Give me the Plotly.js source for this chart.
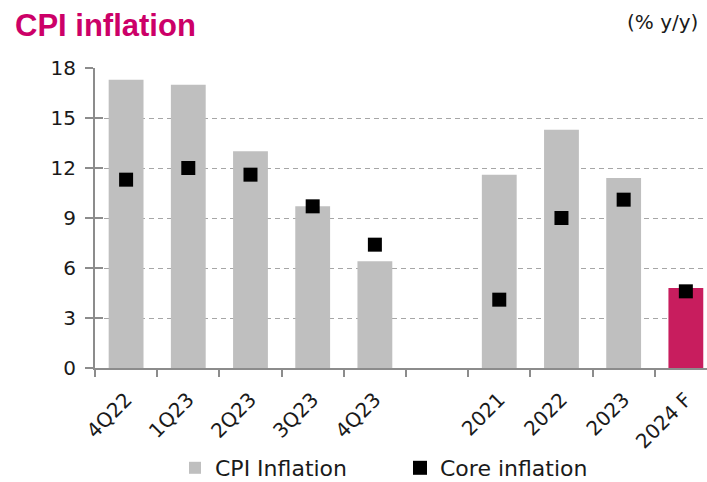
<!DOCTYPE html>
<html>
<head>
<meta charset="utf-8">
<script src="https://cdn.plot.ly/plotly-3.0.1.min.js"></script>
<style>html,body{margin:0;padding:0;background:#fff;}</style>
</head>
<body>
<div id="chart" style="width:707px;height:482px;"></div>
<script>
// Data
const categories = ["4Q22", "1Q23", "2Q23", "3Q23", "4Q23", " ", "2021", "2022", "2023", "2024 F"];
const cpiInflation = [17.3, 17.0, 13.0, 9.7, 6.4, null, 11.6, 14.3, 11.4, 4.8];
const coreInflation = [11.3, 12.0, 11.6, 9.7, 7.4, null, 4.1, 9.0, 10.1, 4.6];

const grey = "#bfbfbf";
const forecastColor = "#c81d5e";
const barColors = categories.map(c => c === "2024 F" ? forecastColor : grey);

const axisColor = "#8c8c8c";
const textColor = "#1a1a1a";
const font = "DejaVu Sans, sans-serif";

const traces = [
  {
    type: "bar",
    name: "CPI Inflation",
    x: categories,
    y: cpiInflation,
    marker: {color: barColors, line: {width: 0}},
    hoverinfo: "x+y"
  },
  {
    type: "scatter",
    mode: "markers",
    name: "Core inflation",
    x: categories,
    y: coreInflation,
    yaxis: "y2",
    marker: {symbol: "square", size: 14, color: "#000000", line: {width: 0}},
    hoverinfo: "x+y"
  }
];

const layout = {
  width: 707,
  height: 482,
  margin: {l: 95, r: 0, t: 68, b: 114},
  paper_bgcolor: "#ffffff",
  plot_bgcolor: "#ffffff",
  bargap: 0.44,
  showlegend: true,
  title: {
    text: "CPI inflation",
    font: {family: "Liberation Sans, Arial, sans-serif", size: 31, color: "#cc0068", weight: "bold"},
    x: 15 / 707, xanchor: "left", xref: "container",
    y: 1 - 14 / 482, yanchor: "top", yref: "container"
  },
  xaxis: {
    type: "category",
    range: [-0.5, 9.34],
    automargin: false,
    tickson: "boundaries",
    ticks: "outside",
    ticklen: 7,
    tickwidth: 2,
    tickcolor: axisColor,
    showline: true,
    linecolor: axisColor,
    linewidth: 2,
    showgrid: false,
    tickangle: -45,
    ticklabelstandoff: 10,
    tickfont: {family: font, size: 20, color: textColor},
    fixedrange: true
  },
  yaxis: {
    range: [0, 18],
    automargin: false,
    tick0: 0,
    dtick: 3,
    ticks: "outside",
    ticklen: 8,
    tickwidth: 2,
    tickcolor: axisColor,
    showline: true,
    linecolor: axisColor,
    linewidth: 2,
    showgrid: true,
    gridcolor: "#a6a6a6",
    gridwidth: 1,
    griddash: "5px,4px",
    zeroline: false,
    ticklabelstandoff: 5,
    tickfont: {family: font, size: 20, color: textColor},
    fixedrange: true
  },
  yaxis2: {
    overlaying: "y",
    side: "left",
    range: [0, 18],
    automargin: false,
    tick0: 0,
    dtick: 3,
    ticks: "inside",
    ticklen: 8,
    tickwidth: 2,
    tickcolor: axisColor,
    showticklabels: false,
    showgrid: false,
    showline: false,
    zeroline: false,
    fixedrange: true
  },
  legend: {
    orientation: "h",
    xref: "container",
    yref: "container",
    x: 400 / 707,
    xanchor: "center",
    y: (482 - 468) / 482,
    yanchor: "middle",
    font: {family: font, size: 22, color: textColor},
    entrywidth: 180,
    entrywidthmode: "pixels",
    bgcolor: "rgba(0,0,0,0)"
  },
  annotations: [
    {
      text: "(% y/y)",
      xref: "paper", yref: "paper",
      x: (700 - 95) / 612, xanchor: "right",
      y: (368 - 22) / 300, yanchor: "middle",
      showarrow: false,
      font: {family: font, size: 20, color: textColor}
    }
  ]
};

Plotly.newPlot("chart", traces, layout, {displayModeBar: false, staticPlot: true});
</script>
</body>
</html>
